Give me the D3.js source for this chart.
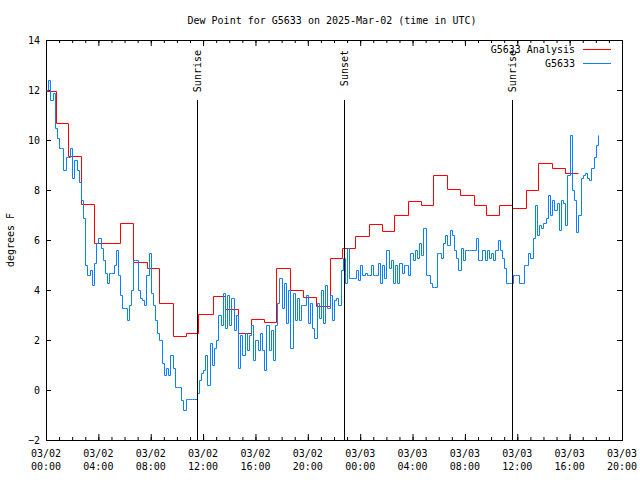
<!DOCTYPE html>
<html>
<head>
<meta charset="utf-8">
<script src="https://cdn.jsdelivr.net/npm/d3@7"></script>
<style>
  html, body { margin: 0; padding: 0; background: #ffffff; }
  svg text { font-family: "DejaVu Sans Mono", "Liberation Mono", monospace; font-size: 10px; fill: #000; }
</style>
</head>
<body>
<svg id="chart" width="640" height="480"></svg>
<script>
// ---------------- data ----------------
const titleText = "Dew Point for G5633 on 2025-Mar-02 (time in UTC)";
const yLabel = "degrees F";
const seriesNames = ["G5633 Analysis", "G5633"];
const seriesColors = ["#ff0000", "#0a80ff"];

// x axis: hours since 03/02 00:00 UTC
const xMajorHours = [0, 4, 8, 12, 16, 20, 24, 28, 32, 36, 40, 44];
const xTickDates = ["03/02", "03/02", "03/02", "03/02", "03/02", "03/02", "03/03", "03/03", "03/03", "03/03", "03/03", "03/03"];
const xTickTimes = ["00:00", "04:00", "08:00", "12:00", "16:00", "20:00", "00:00", "04:00", "08:00", "12:00", "16:00", "20:00"];
const yTicks = [-2, 0, 2, 4, 6, 8, 10, 12, 14];

// sun events (hours since start)
const eventNames = ["Sunrise", "Sunset", "Sunrise"];
const eventHours = [11.56, 22.79, 35.57];

// analysis (red step line): start hour of each step and its value
const analysisHours = [0, 0.74, 1.68, 2.64, 3.64, 5.63, 6.67, 7.72, 8.67, 9.7, 10.7, 11.63, 12.73, 13.67,
  14.63, 15.64, 16.65, 17.6, 18.64, 19.66, 20.63, 21.69, 22.63, 23.6, 24.7, 25.64, 26.58, 27.63, 28.65,
  29.59, 30.66, 31.63, 32.69, 33.61, 34.6, 35.57, 36.64, 37.6, 38.63, 39.65, 40.66];
const analysisValues = [11.95, 10.7, 9.35, 7.43, 5.9, 6.67, 5.13, 4.9, 3.5, 2.16, 2.27, 3.03, 3.77, 3.23,
  2.27, 2.83, 2.71, 4.87, 4.0, 3.71, 3.36, 5.27, 5.69, 6.17, 6.64, 6.36, 7.0, 7.57, 7.4,
  8.6, 8.03, 7.8, 7.4, 7.0, 7.4, 7.27, 8.0, 9.1, 8.9, 8.7, 8.7];

// observations (blue): one reading every 10 minutes from 03/02 00:00
const obsIntervalMinutes = 10;
const obsValues = [
  12.0, 12.4, 11.6, 11.9, 10.5, 10.1, 9.7, 9.7, 8.8, 9.3, 9.3, 9.7,
  8.5, 9.2, 8.8, 8.3, 7.6, 6.9, 5.0, 4.6, 4.8, 4.2, 5.1, 5.9,
  6.1, 5.7, 5.2, 4.7, 4.3, 4.7, 4.7, 5.0, 5.6, 4.6, 3.8, 3.3,
  3.3, 2.8, 3.4, 4.0, 5.2, 5.2, 4.0, 3.7, 3.6, 3.4, 4.6, 5.5,
  3.9, 3.4, 2.8, 2.3, 2.0, 1.1, 0.6, 0.9, 0.6, 1.4, 0.9, 0.13,
  0.13, 0.13, -0.4, -0.8, -0.37, -0.37, -0.37, -0.37, -0.37, -0.1, 0.4, 0.7,
  0.8, 1.4, 0.2, 1.9, 1.0, 1.7, 2.0, 3.0, 2.6, 3.9, 2.5, 3.8,
  2.6, 3.7, 2.4, 3.0, 0.9, 2.2, 1.4, 2.3, 1.6, 2.2, 2.6, 1.2,
  2.0, 1.6, 2.3, 1.6, 0.8, 2.6, 1.6, 2.4, 1.2, 2.6, 3.5, 4.5,
  3.3, 4.3, 2.7, 4.0, 1.7, 3.9, 2.8, 3.7, 2.8, 3.4, 3.4, 3.8,
  2.7, 3.5, 2.5, 2.1, 3.5, 2.9, 4.0, 2.7, 4.2, 3.3, 3.8, 2.8,
  3.6, 3.7, 3.4, 4.8, 5.3, 4.3, 5.7, 4.5, 4.5, 4.5, 4.8, 4.4,
  5.0, 4.6, 4.7, 4.6, 4.6, 5.0, 4.6, 4.6, 5.1, 4.3, 5.0, 4.5,
  5.6, 4.9, 5.2, 4.3, 5.0, 4.3, 5.1, 4.7, 5.0, 5.0, 4.6, 5.5,
  5.2, 5.6, 5.3, 5.9, 5.4, 6.5, 4.6, 4.6, 4.3, 4.13, 4.13, 5.5,
  5.5, 5.3, 5.9, 6.2, 5.8, 6.4, 6.2, 5.6, 5.3, 4.8, 5.7, 5.2,
  5.6, 5.6, 5.6, 5.6, 5.6, 6.1, 5.2, 5.2, 5.6, 5.2, 5.6, 5.3,
  5.5, 5.2, 5.6, 6.0, 5.6, 5.3, 4.9, 4.27, 4.27, 4.27, 4.6, 4.6,
  4.6, 4.27, 4.27, 5.0, 5.0, 5.5, 5.3, 6.1, 7.4, 6.2, 6.6, 6.5,
  6.7, 6.9, 7.8, 7.0, 7.6, 7.2, 7.5, 6.4, 7.6, 7.5, 6.6, 8.6,
  10.2, 8.0, 7.6, 6.3, 7.0, 8.5, 8.6, 8.7, 8.5, 8.4, 8.9, 9.3, 9.8, 10.2
];

// ---------------- chart ----------------
const svg = d3.select("#chart");
const plot = { left: 46, right: 622, top: 40, bottom: 440 };

const x = d3.scaleLinear().domain([0, 44]).range([plot.left, plot.right]);
const y = d3.scaleLinear().domain([-2, 14]).range([plot.bottom, plot.top]);

// title
svg.append("text")
  .attr("x", 332).attr("y", 23.5)
  .attr("text-anchor", "middle")
  .text(titleText);

// y label
svg.append("text")
  .attr("transform", "translate(14,240) rotate(-90)")
  .attr("text-anchor", "middle")
  .text(yLabel);

const hourly = d3.range(0, 45, 1);

function styleAxis(g) {
  g.select(".domain").remove();
  g.selectAll(".tick line").attr("stroke", "#000");
  g.selectAll("text").attr("font-family", null).attr("font-size", null);
}

// minor x ticks (bottom & top)
svg.append("g").attr("transform", `translate(0,${plot.bottom})`)
  .call(d3.axisBottom(x).tickValues(hourly).tickSize(-3).tickFormat(""))
  .call(styleAxis);
svg.append("g").attr("transform", `translate(0,${plot.top})`)
  .call(d3.axisTop(x).tickValues(hourly).tickSize(-3).tickFormat(""))
  .call(styleAxis);
// major x ticks
svg.append("g").attr("transform", `translate(0,${plot.bottom})`)
  .call(d3.axisBottom(x).tickValues(xMajorHours).tickSize(-6).tickFormat(""))
  .call(styleAxis);
svg.append("g").attr("transform", `translate(0,${plot.top})`)
  .call(d3.axisTop(x).tickValues(xMajorHours).tickSize(-6).tickFormat(""))
  .call(styleAxis);

// x tick labels (two lines)
const xl = svg.append("g");
xMajorHours.forEach((h, i) => {
  xl.append("text").attr("x", x(h)).attr("y", 457).attr("text-anchor", "middle").text(xTickDates[i]);
  xl.append("text").attr("x", x(h)).attr("y", 470).attr("text-anchor", "middle").text(xTickTimes[i]);
});

// y axes
svg.append("g").attr("transform", `translate(${plot.left},0)`)
  .call(d3.axisLeft(y).tickValues(yTicks).tickSize(-5).tickPadding(6).tickFormat(d3.format("d")))
  .call(styleAxis);
svg.append("g").attr("transform", `translate(${plot.right},0)`)
  .call(d3.axisRight(y).tickValues(yTicks).tickSize(-5).tickFormat(""))
  .call(styleAxis);

// frame
svg.append("rect")
  .attr("x", plot.left + 0.5).attr("y", plot.top + 0.5)
  .attr("width", plot.right - plot.left).attr("height", plot.bottom - plot.top)
  .attr("fill", "none").attr("stroke", "#000");

// series data
const analysisData = analysisHours.map((h, i) => [h, analysisValues[i]]);
const obsData = obsValues.map((v, i) => [i * obsIntervalMinutes / 60, v]);

// snap to pixel centres for crisp 1px lines
const line = d3.line()
  .x(d => Math.round(x(d[0])) + 0.5)
  .y(d => Math.round(y(d[1])) + 0.5)
  .curve(d3.curveStepAfter);

svg.append("path").datum(analysisData)
  .attr("d", line).attr("fill", "none")
  .attr("stroke", seriesColors[0]).attr("stroke-width", 1);

svg.append("path").datum(obsData)
  .attr("d", line).attr("fill", "none")
  .attr("stroke", seriesColors[1]).attr("stroke-width", 1);

// sun event lines + labels
eventHours.forEach((h, i) => {
  const xp = Math.round(x(h)) + 0.5;
  svg.append("line")
    .attr("x1", xp).attr("x2", xp)
    .attr("y1", 100).attr("y2", plot.bottom)
    .attr("stroke", "#000").attr("stroke-width", 1);
  svg.append("text")
    .attr("transform", `translate(${xp + 3.5},50) rotate(-90)`)
    .attr("text-anchor", "end")
    .text(eventNames[i]);
});

// legend
const legendY = [49, 63];
seriesNames.forEach((name, i) => {
  svg.append("text")
    .attr("x", 575).attr("y", legendY[i] + 3.5)
    .attr("text-anchor", "end")
    .text(name);
  svg.append("line")
    .attr("x1", 583).attr("x2", 611)
    .attr("y1", legendY[i] + 0.5).attr("y2", legendY[i] + 0.5)
    .attr("stroke", seriesColors[i]).attr("stroke-width", 1);
});
</script>
</body>
</html>
